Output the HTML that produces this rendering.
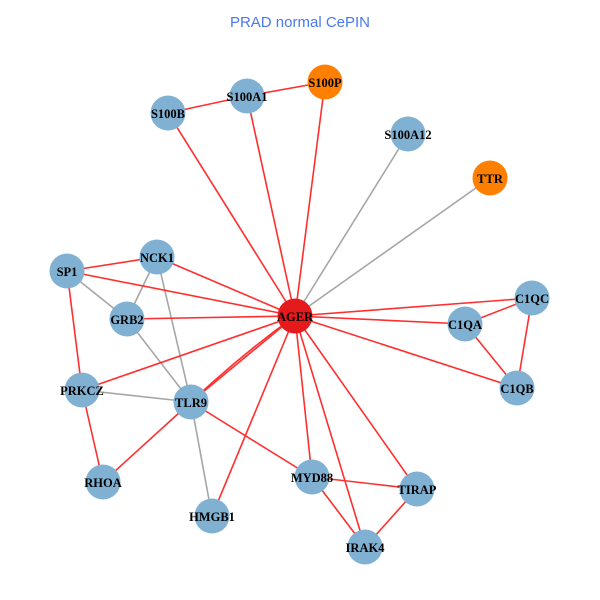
<!DOCTYPE html>
<html><head><meta charset="utf-8"><style>
html,body{margin:0;padding:0;background:#fff;}
svg{display:block;}
.l{font-family:"Liberation Serif",serif;font-weight:bold;font-size:12.5px;fill:#000;text-anchor:middle;dominant-baseline:central;}
</style></head><body>
<svg width="600" height="600" viewBox="0 0 600 600" xmlns="http://www.w3.org/2000/svg">
<rect width="600" height="600" fill="#fff"/>
<text x="300" y="27" font-family="Liberation Sans, sans-serif" font-size="15" fill="#4a78ee" text-anchor="middle">PRAD normal CePIN</text>
<g stroke="#a6a6a6" stroke-width="1.6" fill="none">
<line x1="408" y1="134" x2="295" y2="316"/>
<line x1="490" y1="178" x2="295" y2="316"/>
<line x1="67" y1="271" x2="127" y2="319"/>
<line x1="157" y1="257" x2="127" y2="319"/>
<line x1="157" y1="257" x2="191" y2="402"/>
<line x1="127" y1="319" x2="191" y2="402"/>
<line x1="82" y1="390" x2="191" y2="402"/>
<line x1="191" y1="402" x2="212" y2="516"/>
</g>
<g stroke="#ff2f2f" stroke-width="1.6" fill="none">
<line x1="168" y1="113" x2="247" y2="96"/>
<line x1="247" y1="96" x2="325" y2="82"/>
<line x1="168" y1="113" x2="295" y2="316"/>
<line x1="247" y1="96" x2="295" y2="316"/>
<line x1="325" y1="82" x2="295" y2="316"/>
<line x1="67" y1="271" x2="157" y2="257"/>
<line x1="67" y1="271" x2="295" y2="316"/>
<line x1="157" y1="257" x2="295" y2="316"/>
<line x1="127" y1="319" x2="295" y2="316"/>
<line x1="67" y1="271" x2="82" y2="390"/>
<line x1="82" y1="390" x2="295" y2="316"/>
<line x1="191" y1="402" x2="295" y2="316"/>
<path d="M191 402 Q241 355 295 316"/>
<line x1="295" y1="316" x2="532" y2="298"/>
<line x1="295" y1="316" x2="465" y2="324"/>
<line x1="295" y1="316" x2="517" y2="388"/>
<line x1="532" y1="298" x2="465" y2="324"/>
<line x1="532" y1="298" x2="517" y2="388"/>
<line x1="465" y1="324" x2="517" y2="388"/>
<line x1="82" y1="390" x2="103" y2="482"/>
<line x1="103" y1="482" x2="191" y2="402"/>
<line x1="191" y1="402" x2="312" y2="477"/>
<line x1="295" y1="316" x2="212" y2="516"/>
<line x1="295" y1="316" x2="312" y2="477"/>
<line x1="295" y1="316" x2="417" y2="489"/>
<line x1="295" y1="316" x2="365" y2="547"/>
<line x1="312" y1="477" x2="417" y2="489"/>
<line x1="312" y1="477" x2="365" y2="547"/>
<line x1="417" y1="489" x2="365" y2="547"/>
</g>
<g fill="#80b1d3">
<circle cx="168" cy="113" r="17.5"/>
<circle cx="247" cy="96" r="17.5"/>
<circle cx="408" cy="134" r="17.5"/>
<circle cx="157" cy="257" r="17.5"/>
<circle cx="67" cy="271" r="17.5"/>
<circle cx="127" cy="319" r="17.5"/>
<circle cx="532" cy="298" r="17.5"/>
<circle cx="465" cy="324" r="17.5"/>
<circle cx="517" cy="388" r="17.5"/>
<circle cx="82" cy="390" r="17.5"/>
<circle cx="191" cy="402" r="17.5"/>
<circle cx="103" cy="482" r="17.5"/>
<circle cx="212" cy="516" r="17.5"/>
<circle cx="312" cy="477" r="17.5"/>
<circle cx="417" cy="489" r="17.5"/>
<circle cx="365" cy="547" r="17.5"/>
</g>
<circle cx="325" cy="82" r="17.5" fill="#ff7f00"/>
<circle cx="490" cy="178" r="17.5" fill="#ff7f00"/>
<circle cx="295" cy="316" r="17.5" fill="#e41a1c"/>
<g class="l">
<text class="l" x="325" y="83">S100P</text>
<text class="l" x="247" y="97">S100A1</text>
<text class="l" x="168" y="114">S100B</text>
<text class="l" x="408" y="135">S100A12</text>
<text class="l" x="490" y="179">TTR</text>
<text class="l" x="157" y="258">NCK1</text>
<text class="l" x="67" y="272">SP1</text>
<text class="l" x="127" y="320">GRB2</text>
<text class="l" x="295" y="317">AGER</text>
<text class="l" x="532" y="299">C1QC</text>
<text class="l" x="465" y="325">C1QA</text>
<text class="l" x="517" y="389">C1QB</text>
<text class="l" x="82" y="391">PRKCZ</text>
<text class="l" x="191" y="403">TLR9</text>
<text class="l" x="103" y="483">RHOA</text>
<text class="l" x="212" y="517">HMGB1</text>
<text class="l" x="312" y="478">MYD88</text>
<text class="l" x="417" y="490">TIRAP</text>
<text class="l" x="365" y="548">IRAK4</text>
</g>
</svg>
</body></html>
